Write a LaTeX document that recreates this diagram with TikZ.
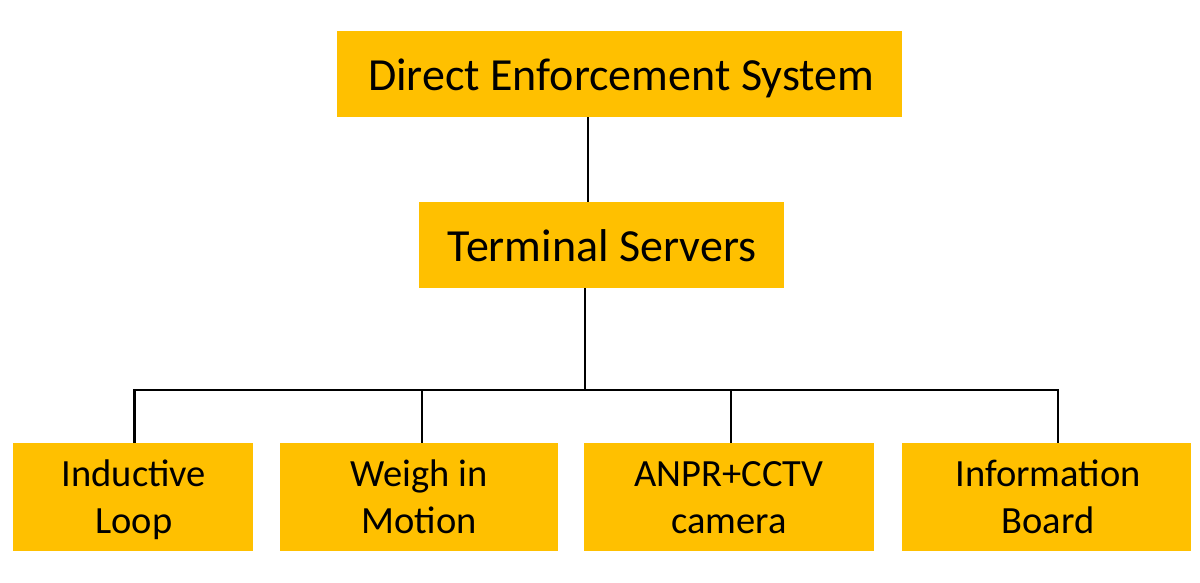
\documentclass[tikz,border=0pt]{standalone}
\usepackage{fontspec}
\setmainfont{Carlito}
\definecolor{amber}{HTML}{FFC000}
\begin{document}
\begin{tikzpicture}[x=1pt,y=-1pt,
  box/.style={fill=amber, draw=none, inner sep=0pt},
  bigtext/.style={inner sep=0pt, anchor=base, text=black, font=\fontsize{46}{55}\selectfont},
  smalltext/.style={inner sep=0pt, align=center, text=black, font=\fontsize{38.5}{47}\selectfont},
  link/.style={draw=black, line width=2.7pt}]
\useasboundingbox[fill=white] (0,0) rectangle (1200,582);
% boxes
\node[box, minimum width=565pt, minimum height=86pt] (top) at (619.5,74) {};
\node[box, minimum width=365pt, minimum height=86pt] (mid) at (601.5,245) {};
\node[box, minimum width=240pt, minimum height=108pt] (b1) at (133,497) {};
\node[box, minimum width=278pt, minimum height=108pt] (b2) at (419,497) {};
\node[box, minimum width=290pt, minimum height=108pt] (b3) at (729,497) {};
\node[box, minimum width=289pt, minimum height=108pt] (b4) at (1046.5,497) {};
% texts
\node[bigtext] (toptxt) at (621,90) {Direct Enforcement System};
\node[bigtext] (midtxt) at (602,261) {Terminal Servers};
\node[smalltext] (b1txt) at (134,501) {\strut Inductive\\\strut Loop};
\node[smalltext] (b2txt) at (419,501) {\strut Weigh in\\\strut Motion};
\node[smalltext] (b3txt) at (729,501) {\strut ANPR+CCTV\\\strut camera};
\node[smalltext] (b4txt) at (1048,501) {\strut Information\\\strut Board};
% connectors
\coordinate (t1) at (588,150);
\coordinate (bus) at (585,390);
\coordinate (d1) at (134.6,390);
\coordinate (d2) at (422,390);
\coordinate (d3) at (731,390);
\coordinate (d4) at (1058,390);
\draw[link] (top.south -| t1) -- (mid.north -| t1);
\draw[link] (mid.south -| bus) -- (bus);
\draw[link] (b1.north -| d1) -- (d1) -- (d4) -- (b4.north -| d4);
\draw[link] (d2) -- (b2.north -| d2);
\draw[link] (d3) -- (b3.north -| d3);
\end{tikzpicture}
\end{document}
